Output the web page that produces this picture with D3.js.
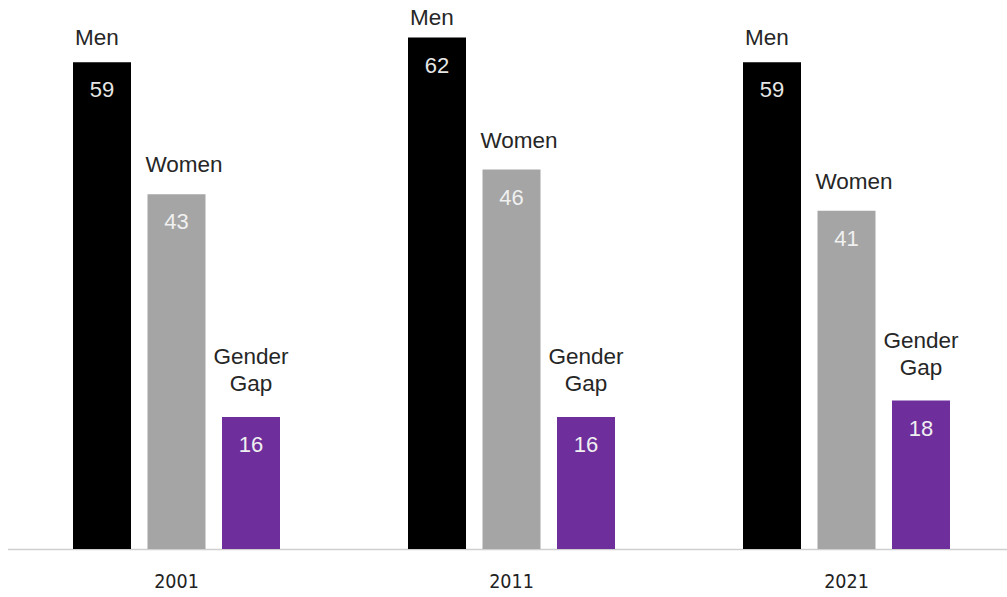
<!DOCTYPE html>
<html>
<head>
<meta charset="utf-8">
<script src="https://cdn.jsdelivr.net/npm/d3@7/dist/d3.min.js"></script>
<style>
  html, body { margin: 0; padding: 0; background: #ffffff; }
  svg { display: block; }
</style>
</head>
<body>
<svg id="chart" width="1007" height="597"></svg>
<script>
// Years shown along the bottom
const years = ["2001", "2011", "2021"];
// Series, in the order they appear within each year
const series = ["Men", "Women", "Gender Gap"];
// Values per series, one entry per year
const menValues = [59, 62, 59];
const womenValues = [43, 46, 41];
const gapValues = [16, 16, 18];

const valuesBySeries = {
  "Men": menValues,
  "Women": womenValues,
  "Gender Gap": gapValues
};
const colors = {
  "Men": "#000000",
  "Women": "#a5a5a5",
  "Gender Gap": "#6e2f9d"
};

const width = 1007, height = 597;
const baseY = 549;

const svg = d3.select("#chart");

// Outer band: one slot per year
const x0 = d3.scaleBand().domain(years).range([9, 1014]).padding(0);
// Inner band: the three bars inside a year slot, centred on 0
const innerStep = 74.5, barW = 58;
const innerPad = 1 - barW / innerStep;
const x1 = d3.scaleBand().domain(series)
  .range([-1.5 * innerStep, 1.5 * innerStep])
  .paddingInner(innerPad).paddingOuter(innerPad / 2);

const y = d3.scaleLinear().domain([0, 62]).range([baseY, 37.5]);

const rows = [];
years.forEach((yr, i) => {
  series.forEach(s => {
    rows.push({ year: yr, series: s, value: valuesBySeries[s][i] });
  });
});

const barX = d => x0(d.year) + x0.bandwidth() / 2 + x1(d.series);

// Baseline rule
svg.append("line")
  .attr("x1", 8).attr("x2", width)
  .attr("y1", baseY + 0.5).attr("y2", baseY + 0.5)
  .attr("stroke", "#cfcfcf").attr("stroke-width", 1.5);

// Bars
svg.append("g").selectAll("rect").data(rows).join("rect")
  .attr("x", barX)
  .attr("y", d => y(d.value))
  .attr("width", x1.bandwidth())
  .attr("height", d => y(0) - y(d.value))
  .attr("fill", d => colors[d.series]);

// Values inside the bars
svg.append("g").selectAll("text").data(rows).join("text")
  .attr("x", d => barX(d) + x1.bandwidth() / 2)
  .attr("y", d => y(d.value) + 35)
  .attr("text-anchor", "middle")
  .attr("font-family", "'Liberation Sans', Arial, sans-serif")
  .attr("font-size", 22)
  .attr("fill", d => d.series === "Men" ? "#e6e6e6" : "#f0f0f0")
  .text(d => d.value);

// Series names above the bars
const labelFont = "'Liberation Sans', Arial, sans-serif";
const labels = svg.append("g")
  .attr("font-family", labelFont)
  .attr("font-size", 22.5)
  .attr("fill", "#262626");

rows.filter(d => d.series === "Men").forEach(d => {
  labels.append("text")
    .attr("x", barX(d) + 2)
    .attr("y", Math.max(y(d.value) - 17, 25))
    .text(d.series);
});
rows.filter(d => d.series === "Women").forEach(d => {
  labels.append("text")
    .attr("x", barX(d) - 2)
    .attr("y", y(d.value) - 22)
    .text(d.series);
});
rows.filter(d => d.series === "Gender Gap").forEach(d => {
  const cx = barX(d) + x1.bandwidth() / 2;
  const t = labels.append("text")
    .attr("text-anchor", "middle")
    .attr("x", cx)
    .attr("y", y(d.value) - 53);
  t.append("tspan").attr("x", cx).text("Gender");
  t.append("tspan").attr("x", cx).attr("dy", 27).text("Gap");
});

// Year labels
svg.append("g").selectAll("text").data(years).join("text")
  .attr("x", d => x0(d) + x0.bandwidth() / 2)
  .attr("y", 588)
  .attr("text-anchor", "middle")
  .attr("font-family", "'DejaVu Sans Condensed', 'DejaVu Sans', sans-serif")
  .attr("font-stretch", "condensed")
  .attr("font-size", 19.5)
  .attr("fill", "#222222")
  .text(d => d);
</script>
</body>
</html>
